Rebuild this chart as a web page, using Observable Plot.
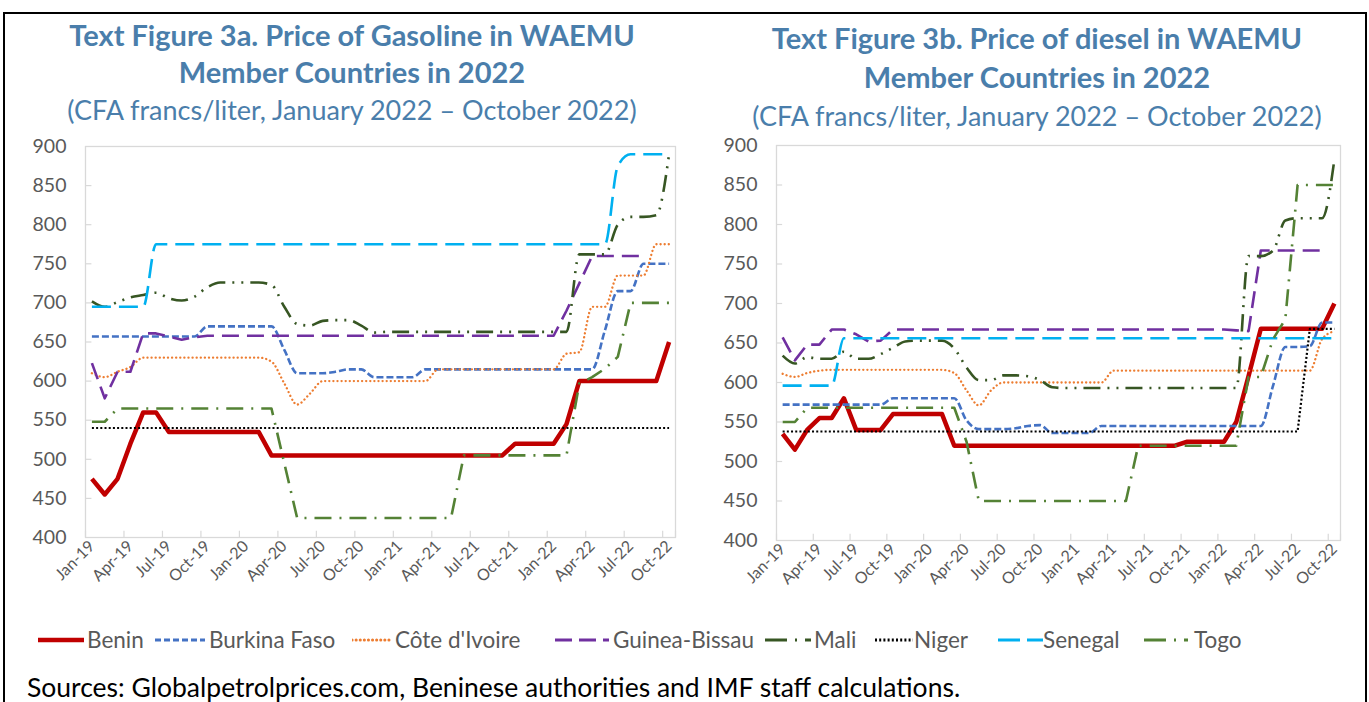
<!DOCTYPE html>
<html><head><meta charset="utf-8">
<script src="https://cdn.jsdelivr.net/npm/d3@7"></script>
<script src="https://cdn.jsdelivr.net/npm/@observablehq/plot@0.6"></script>
<style>
body{margin:0;background:#fff;font-family:Lato,"Open Sans",sans-serif;}
#page{position:relative;width:1369px;height:702px;overflow:hidden;background:#fff;}
#box{position:absolute;left:3px;top:12px;width:1364px;height:720px;border:2px solid #000;box-sizing:border-box;z-index:5;pointer-events:none;background:transparent;}
.title{position:absolute;text-align:center;color:#4A7EAB;font-weight:700;font-size:29px;white-space:nowrap;}
.sub{position:absolute;text-align:center;color:#4A7EAB;font-weight:400;font-size:27px;white-space:nowrap;}
.chart{position:absolute;}
#legend{position:absolute;left:0;top:625px;height:30px;width:1369px;font-size:22.5px;color:#595959;white-space:nowrap;}
#legend .sw{position:absolute;top:5px;}
#legend .lab{position:absolute;top:0;line-height:30px;}
#source{position:absolute;left:27px;top:672px;font-size:26.5px;line-height:30px;color:#000;white-space:nowrap;}
</style>
</head><body>
<div id="page">
  <div id="box"></div>
  <div class="title" style="left:0;top:16px;width:704px;line-height:37px;">Text Figure 3a. Price of Gasoline in WAEMU<br>Member Countries in 2022</div>
  <div class="sub" style="left:0;top:92px;width:704px;line-height:36px;">(CFA francs/liter, January 2022 – October 2022)</div>
  <div class="title" style="left:690px;top:18px;width:694px;line-height:39px;">Text Figure 3b. Price of diesel in WAEMU<br>Member Countries in 2022</div>
  <div class="sub" style="left:690px;top:98px;width:694px;line-height:36px;">(CFA francs/liter, January 2022 – October 2022)</div>
  <div class="chart" id="left" style="left:0;top:130px;"></div>
  <div class="chart" id="right" style="left:690px;top:130px;"></div>
  <div id="legend"></div>
  <div id="source">Sources: Globalpetrolprices.com, Beninese authorities and IMF staff calculations.</div>
</div>
<script>
// ---- categories ----
const months = d3.utcMonth.range(new Date(Date.UTC(2019,0,1)), new Date(Date.UTC(2022,10,1))).map(d3.utcFormat("%b-%y"));
const countries = ["Benin","Burkina Faso","Côte d'Ivoire","Guinea-Bissau","Mali","Niger","Senegal","Togo"];
const yTicks = [400,450,500,550,600,650,700,750,800,850,900];

// ---- gasoline (CFA francs/liter), Jan-19 .. Oct-22 ----
const gasBenin = [475,455,475,520,560,560,535,535,535,535,535,535,
                  535,535,505,505,505,505,505,505,505,505,505,505,
                  505,505,505,505,505,505,505,505,505,520,520,520,
                  520,545,600,600,600,600,600,600,600,650];
const gasBurkina = [657,657,657,657,657,657,657,657,657,670,670,670,
                    670,670,670,640,610,610,610,612,615,615,605,605,
                    605,605,615,615,615,615,615,615,615,615,615,615,
                    615,615,615,615,665,715,715,750,750,750];
const gasCIV = [610,605,612,618,630,630,630,630,630,630,630,630,
                630,630,625,597,570,584,600,600,600,600,600,600,
                600,600,600,615,615,615,615,615,615,615,615,615,
                615,635,637,695,695,735,735,735,775,775];
const gasGB = [623,578,612,612,661,661,657,653,656,658,658,658,
               658,658,658,658,658,658,658,658,658,658,658,658,
               658,658,658,658,658,658,658,658,658,658,658,658,
               658,690,725,760,760,760,760,760,null,null];
const gasMali = [702,695,701,707,710,713,706,703,708,720,726,726,
                 726,726,723,695,673,671,677,678,678,671,662,663,
                 663,663,663,663,663,663,663,663,663,663,663,663,
                 663,663,762,762,762,800,810,810,812,890];
const gasNiger = [540,540,540,540,540,540,540,540,540,540,540,540,
                  540,540,540,540,540,540,540,540,540,540,540,540,
                  540,540,540,540,540,540,540,540,540,540,540,540,
                  540,540,540,540,540,540,540,540,540,540];
const gasSenegal = [695,695,695,695,695,775,775,775,775,775,775,775,
                    775,775,775,775,775,775,775,775,775,775,775,775,
                    775,775,775,775,775,775,775,775,775,775,775,775,
                    775,775,775,775,775,875,890,890,890,890];
const gasTogo = [548,548,565,565,565,565,565,565,565,565,565,565,
                 565,565,565,495,425,425,425,425,425,425,425,425,
                 425,425,425,425,425,505,505,505,505,505,505,505,
                 505,505,597,605,616,631,700,700,700,700];

// ---- diesel (CFA francs/liter), Jan-19 .. Oct-22 ----
const dslBenin = [535,515,540,555,555,580,540,540,540,560,560,560,
                  560,560,520,520,520,520,520,520,520,520,520,520,
                  520,520,520,520,520,520,520,520,520,525,525,525,
                  525,550,608,668,668,668,668,668,668,700];
const dslBurkina = [572,572,572,572,572,572,572,572,572,580,580,580,
                    580,580,580,552,541,541,541,542,545,546,536,536,
                    536,536,545,545,545,545,545,545,545,545,545,545,
                    545,545,545,545,596,645,645,646,676,676];
const dslCIV = [611,607,612,615,616,616,616,616,616,616,616,616,
                616,616,612,590,571,590,600,600,600,600,600,600,
                600,600,600,615,615,615,615,615,615,615,615,615,
                615,615,615,615,615,615,615,615,655,665];
const dslGB = [657,628,648,648,667,667,661,652,653,667,667,667,
               667,667,667,667,667,667,667,667,667,667,667,667,
               667,667,667,667,667,667,667,667,667,667,667,667,
               667,666,665,767,767,767,767,767,767,null];
const dslMali = [634,624,632,630,630,639,630,630,636,644,652,653,
                 653,653,643,619,603,603,609,609,608,603,594,593,
                 593,593,593,593,593,593,593,593,593,593,593,593,
                 593,593,760,760,767,805,808,808,808,882];
const dslNiger = [538,538,538,538,538,538,538,538,538,538,538,538,
                  538,538,538,538,538,538,538,538,538,538,538,538,
                  538,538,538,538,538,538,538,538,538,538,538,538,
                  538,538,538,538,538,538,538,668,668,668];
const dslSenegal = [596,596,596,596,596,656,656,656,656,656,656,656,
                    656,656,656,656,656,656,656,656,656,656,656,656,
                    656,656,656,656,656,656,656,656,656,656,656,656,
                    656,656,656,656,656,656,656,656,656,656];
const dslTogo = [550,550,568,568,568,568,568,568,568,568,568,568,
                 568,568,568,525,450,450,450,450,450,450,450,450,
                 450,450,450,450,450,520,520,520,520,520,520,520,
                 520,520,607,607,655,680,850,850,850,850];

const gasoline = [gasBenin,gasBurkina,gasCIV,gasGB,gasMali,gasNiger,gasSenegal,gasTogo];
const diesel = [dslBenin,dslBurkina,dslCIV,dslGB,dslMali,dslNiger,dslSenegal,dslTogo];

// ---- styles ----
const styles = [
  {stroke:"#C00000", strokeWidth:4.5, dash:null, cap:"butt", curve:"linear"},
  {stroke:"#4472C4", strokeWidth:2.6, dash:"7,3", cap:"butt", curve:"monotone-x"},
  {stroke:"#ED7D31", strokeWidth:2.3, dash:"0.1,4", cap:"round", curve:"monotone-x"},
  {stroke:"#7030A0", strokeWidth:2.6, dash:"17,8", cap:"butt", curve:"linear"},
  {stroke:"#375623", strokeWidth:2.6, dash:"17,7,2,7,2,7", cap:"butt", curve:"monotone-x"},
  {stroke:"#000000", strokeWidth:2.2, dash:"2,2.2", cap:"butt", curve:"linear"},
  {stroke:"#00B0F0", strokeWidth:2.6, dash:"19,8", cap:"butt", curve:"monotone-x"},
  {stroke:"#548235", strokeWidth:2.6, dash:"17,8,2,8", cap:"butt", curve:"linear"}
];
// legend key layout (swatch start, swatch length, label start)
const legendDash = [null, "6,3", "0.1,4", "17,7", "22,8,2,8", "2,2.2", "22,7", "22,8,2,8"];
const legendSwX = [38,155,352,555,765,875,998,1144];
const legendSwW = [46,50,40,54,46,38,45,44];
const legendLabX = [87,209,395,613,814,914,1043,1194];

function chart(series, dims) {
  const labelIdx = d3.range(0, months.length, 3);
  const bounds = d3.range(-0.5, months.length - 1, 3).concat([months.length - 0.5]);
  const lines = series.map((vals, k) => {
    const s = styles[k];
    return Plot.line(vals.map((v, i) => ({i, v})).filter(d => d.v != null), {
      x: "i", y: "v", stroke: s.stroke, strokeWidth: s.strokeWidth,
      strokeDasharray: s.dash, strokeLinecap: s.cap, strokeLinejoin: "round", curve: s.curve
    });
  });
  return Plot.plot({
    ...dims,
    style: {fontFamily: "Lato, 'Open Sans', sans-serif", color: "#595959", background: "transparent", overflow: "visible"},
    x: {domain: [-0.5, months.length - 0.5]},
    y: {domain: [400, 900]},
    marks: [
      Plot.frame({stroke: "#d9d9d9", strokeWidth: 1.3}),
      Plot.ruleY(yTicks.slice(1, -1), {x1: -0.5, x2: 0, stroke: "#d9d9d9", strokeWidth: 1.2}),
      Plot.ruleX(bounds, {y1: 400, y2: 408, stroke: "#d9d9d9", strokeWidth: 1.2}),
      Plot.axisY({ticks: yTicks, tickSize: 0, tickPadding: 19, tickFormat: d => d, label: null, fontSize: 19.5, fill: "#595959"}),
      Plot.axisX({ticks: labelIdx, tickSize: 0, tickPadding: 6, tickRotate: -45, tickFormat: i => months[i], label: null, fontSize: 16, fill: "#595959"}),
      ...lines
    ]
  });
}

document.getElementById("left").append(chart(gasoline, {width: 690, height: 490, marginLeft: 85, marginRight: 15, marginTop: 16, marginBottom: 83}));
document.getElementById("right").append(chart(diesel, {width: 679, height: 490, marginLeft: 86, marginRight: 29, marginTop: 15, marginBottom: 80}));

// ---- legend ----
const legend = document.getElementById("legend");
countries.forEach((c, k) => {
  const s = styles[k];
  const w = legendSwW[k];
  const sw = d3.create("svg").attr("class", "sw").attr("width", w).attr("height", 20)
    .style("left", legendSwX[k] + "px");
  sw.append("line").attr("x1", 0).attr("x2", w).attr("y1", 10).attr("y2", 10)
    .attr("stroke", s.stroke).attr("stroke-width", k === 0 ? 4.5 : 3)
    .attr("stroke-dasharray", legendDash[k]).attr("stroke-linecap", s.cap);
  legend.append(sw.node());
  const t = document.createElement("span");
  t.className = "lab";
  t.style.left = legendLabX[k] + "px";
  t.textContent = c;
  legend.append(t);
});
</script>
</body></html>
